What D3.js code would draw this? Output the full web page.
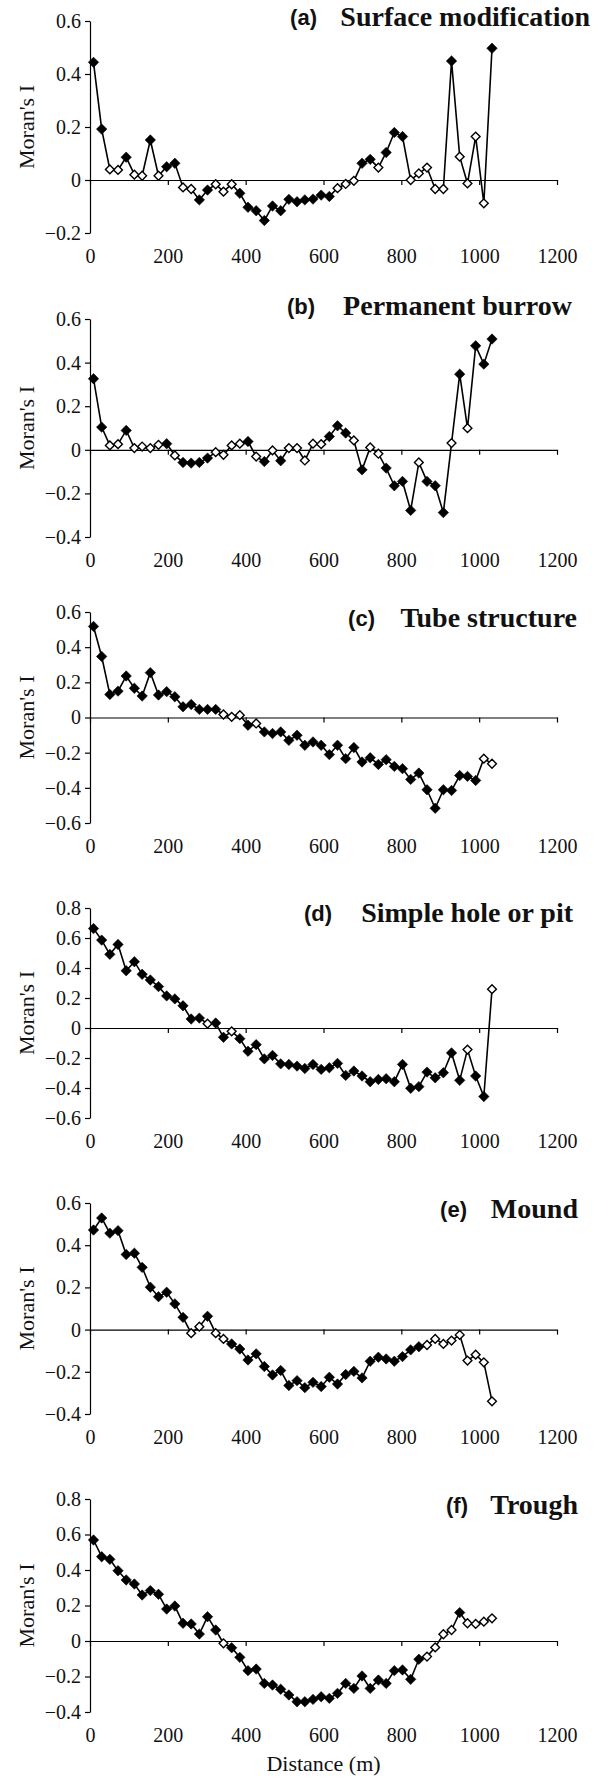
<!DOCTYPE html>
<html>
<head>
<meta charset="utf-8">
<title>Moran's I correlograms</title>
<style>
  html, body { margin: 0; padding: 0; background: #fff; }
</style>
<script src="https://d3js.org/d3.v7.min.js"></script>
</head>
<body>
<div id="chart"></div>
<script>
// distance classes (m), shared by all six correlograms
var distance = [9, 30, 51, 72, 93, 114, 134, 155, 176, 197, 218, 239, 260, 281, 302, 323, 343, 364, 385, 406,
                427, 448, 469, 490, 511, 532, 552, 573, 594, 615, 636, 657, 678, 699, 720, 741, 761, 782, 803, 824,
                845, 866, 887, 908, 929, 950, 970, 991, 1012, 1033];
var xTicks = [0, 200, 400, 600, 800, 1000, 1200];

var letters = ["(a)", "(b)", "(c)", "(d)", "(e)", "(f)"];
var titles = ["Surface modification", "Permanent burrow", "Tube structure", "Simple hole or pit", "Mound", "Trough"];

// Moran's I per panel; sig = 1 filled diamond (significant), 0 open diamond
var surfaceI = [0.444, 0.192, 0.040, 0.038, 0.086, 0.020, 0.016, 0.151, 0.016, 0.050, 0.063, -0.028, -0.034, -0.075, -0.038, -0.016, -0.044, -0.016, -0.050, -0.103,
                -0.116, -0.153, -0.098, -0.116, -0.073, -0.082, -0.075, -0.072, -0.057, -0.062, -0.031, -0.015, -0.003, 0.063, 0.078, 0.047, 0.104, 0.179, 0.164, 0.000,
                0.025, 0.047, -0.034, -0.034, 0.449, 0.088, -0.013, 0.164, -0.088, 0.497];
var surfaceSig = [1, 1, 0, 0, 1, 0, 0, 1, 0, 1, 1, 0, 0, 1, 1, 0, 0, 0, 1, 1, 1, 1, 1, 1, 1, 1, 1, 1, 1, 1, 0, 0, 0, 1, 1, 0, 1, 1, 1, 0, 0, 0, 0, 0, 1, 0, 0, 0, 0, 1];

var burrowI = [0.326, 0.104, 0.020, 0.026, 0.089, 0.008, 0.015, 0.008, 0.023, 0.028, -0.026, -0.058, -0.061, -0.058, -0.038, -0.011, -0.023, 0.020, 0.028, 0.038,
               -0.031, -0.054, -0.003, -0.050, 0.008, 0.008, -0.049, 0.028, 0.026, 0.061, 0.110, 0.077, 0.043, -0.092, 0.011, -0.018, -0.084, -0.165, -0.145, -0.278,
               -0.058, -0.145, -0.165, -0.288, 0.031, 0.347, 0.099, 0.477, 0.393, 0.508];
var burrowSig = [1, 1, 0, 0, 1, 0, 0, 0, 0, 1, 0, 1, 1, 1, 1, 0, 0, 0, 0, 1, 0, 1, 0, 1, 0, 0, 0, 0, 0, 1, 1, 1, 0, 1, 0, 0, 1, 1, 1, 1, 0, 1, 1, 1, 0, 1, 0, 1, 1, 1];

var tubeI = [0.518, 0.347, 0.131, 0.150, 0.236, 0.166, 0.122, 0.255, 0.128, 0.147, 0.118, 0.061, 0.074, 0.046, 0.046, 0.046, 0.017, 0.004, 0.013, -0.044,
             -0.034, -0.082, -0.091, -0.082, -0.130, -0.101, -0.158, -0.139, -0.158, -0.211, -0.158, -0.234, -0.171, -0.253, -0.229, -0.267, -0.240, -0.278, -0.291, -0.352,
             -0.316, -0.411, -0.516, -0.411, -0.415, -0.330, -0.335, -0.358, -0.234, -0.263];
var tubeSig = [1, 1, 1, 1, 1, 1, 1, 1, 1, 1, 1, 1, 1, 1, 1, 1, 0, 0, 0, 1, 0, 1, 1, 1, 1, 1, 1, 1, 1, 1, 1, 1, 1, 1, 1, 1, 1, 1, 1, 1, 1, 1, 1, 1, 1, 1, 1, 1, 0, 0];

var holeI = [0.663, 0.586, 0.491, 0.557, 0.382, 0.442, 0.358, 0.320, 0.276, 0.214, 0.194, 0.148, 0.060, 0.066, 0.029, 0.033, -0.062, -0.022, -0.071, -0.155,
             -0.111, -0.206, -0.183, -0.239, -0.243, -0.254, -0.270, -0.243, -0.276, -0.265, -0.236, -0.316, -0.287, -0.320, -0.358, -0.343, -0.338, -0.358, -0.243, -0.402,
             -0.391, -0.294, -0.332, -0.298, -0.166, -0.349, -0.144, -0.320, -0.457, 0.259];
var holeSig = [1, 1, 1, 1, 1, 1, 1, 1, 1, 1, 1, 1, 1, 1, 0, 1, 1, 0, 1, 1, 1, 1, 1, 1, 1, 1, 1, 1, 1, 1, 1, 1, 1, 1, 1, 1, 1, 1, 1, 1, 1, 1, 1, 1, 1, 1, 0, 1, 1, 0];

var moundI = [0.472, 0.529, 0.457, 0.469, 0.356, 0.362, 0.295, 0.201, 0.156, 0.177, 0.122, 0.058, -0.017, 0.014, 0.063, -0.017, -0.044, -0.068, -0.092, -0.144,
              -0.115, -0.175, -0.215, -0.194, -0.265, -0.242, -0.275, -0.250, -0.270, -0.226, -0.258, -0.213, -0.198, -0.229, -0.150, -0.131, -0.139, -0.150, -0.128, -0.096,
              -0.081, -0.073, -0.044, -0.068, -0.052, -0.025, -0.147, -0.119, -0.155, -0.340];
var moundSig = [1, 1, 1, 1, 1, 1, 1, 1, 1, 1, 1, 1, 0, 0, 1, 0, 0, 1, 1, 1, 1, 1, 1, 1, 1, 1, 1, 1, 1, 1, 1, 1, 1, 1, 1, 1, 1, 1, 1, 1, 1, 0, 0, 0, 0, 0, 0, 0, 0, 0];

var troughI = [0.569, 0.475, 0.460, 0.396, 0.344, 0.321, 0.259, 0.284, 0.263, 0.180, 0.197, 0.100, 0.096, 0.039, 0.137, 0.062, -0.013, -0.038, -0.092, -0.167,
               -0.158, -0.239, -0.248, -0.272, -0.304, -0.342, -0.342, -0.329, -0.314, -0.323, -0.295, -0.239, -0.267, -0.197, -0.267, -0.220, -0.239, -0.167, -0.163, -0.216,
               -0.103, -0.088, -0.036, 0.038, 0.062, 0.160, 0.100, 0.096, 0.109, 0.128];
var troughSig = [1, 1, 1, 1, 1, 1, 1, 1, 1, 1, 1, 1, 1, 1, 1, 1, 0, 1, 1, 1, 1, 1, 1, 1, 1, 1, 1, 1, 1, 1, 1, 1, 1, 1, 1, 1, 1, 1, 1, 1, 1, 0, 0, 0, 0, 1, 0, 0, 0, 0];

var series = [surfaceI, burrowI, tubeI, holeI, moundI, troughI];
var sigs = [surfaceSig, burrowSig, tubeSig, holeSig, moundSig, troughSig];

var yTicks = [
    [-0.2, 0, 0.2, 0.4, 0.6],
    [-0.4, -0.2, 0, 0.2, 0.4, 0.6],
    [-0.6, -0.4, -0.2, 0, 0.2, 0.4, 0.6],
    [-0.6, -0.4, -0.2, 0, 0.2, 0.4, 0.6, 0.8],
    [-0.4, -0.2, 0, 0.2, 0.4, 0.6],
    [-0.4, -0.2, 0, 0.2, 0.4, 0.6, 0.8]
];

// page layout of each panel (pixels)
var layout = [
    { top: 21,   bottom: 233,  titleY: 26,   titleX: 590, letterX: 317 },
    { top: 319,  bottom: 537,  titleY: 315,  titleX: 572, letterX: 315 },
    { top: 612,  bottom: 823,  titleY: 627,  titleX: 577, letterX: 375 },
    { top: 908,  bottom: 1118, titleY: 922,  titleX: 573, letterX: 332 },
    { top: 1203, bottom: 1414, titleY: 1218, titleX: 578, letterX: 467 },
    { top: 1499, bottom: 1712, titleY: 1514, titleX: 578, letterX: 468 }
];

var serif = "Liberation Serif";
var sans = "Liberation Sans";

var svg = d3.select("#chart").append("svg")
    .attr("width", 608)
    .attr("height", 1778);

var x = d3.scaleLinear().domain([0, 1200]).range([90, 557]);

function diamond(r) {
    return "M0," + (-r) + "L" + r + ",0L0," + r + "L" + (-r) + ",0Z";
}
function fmtY(d) {
    return Math.abs(d) < 1e-9 ? "0" : d3.format(".1f")(d);
}

layout.forEach(function (p, k) {
    var lo = yTicks[k][0], hi = yTicks[k][yTicks[k].length - 1];
    var y = d3.scaleLinear().domain([lo, hi]).range([p.bottom, p.top]);
    var g = svg.append("g");
    var pts = distance.map(function (d, i) { return { d: d, v: series[k][i], s: sigs[k][i] }; });

    // y axis
    var ya = g.append("g")
        .attr("transform", "translate(" + x(0) + ",0)")
        .call(d3.axisLeft(y).tickValues(yTicks[k]).tickSize(5).tickSizeOuter(0).tickPadding(4).tickFormat(fmtY));
    ya.selectAll("path, line").attr("stroke", "#000").attr("stroke-width", 1.2);
    ya.selectAll("text")
        .style("font-family", serif).style("font-size", "20px").attr("fill", "#111");

    // horizontal axis through zero
    var xa = g.append("g")
        .attr("transform", "translate(0," + y(0) + ")")
        .call(d3.axisBottom(x).tickValues(xTicks).tickSize(5).tickSizeOuter(0).tickFormat(""));
    xa.selectAll("path, line").attr("stroke", "#000").attr("stroke-width", 1.2);

    // distance labels below the plot
    var xl = g.append("g")
        .attr("transform", "translate(0," + p.bottom + ")")
        .call(d3.axisBottom(x).tickValues(xTicks).tickSize(0).tickPadding(16).tickFormat(d3.format("d")));
    xl.select(".domain").remove();
    xl.selectAll("text")
        .style("font-family", serif).style("font-size", "20px").attr("fill", "#111");

    // series line
    g.append("path")
        .datum(pts)
        .attr("fill", "none")
        .attr("stroke", "#000")
        .attr("stroke-width", 1.6)
        .attr("d", d3.line().x(function (d) { return x(d.d); }).y(function (d) { return y(d.v); }));

    // diamond markers
    g.selectAll(".pt")
        .data(pts)
        .enter()
        .append("path")
        .attr("class", "pt")
        .attr("transform", function (d) { return "translate(" + x(d.d) + "," + y(d.v) + ")"; })
        .attr("d", function (d) { return d.s ? diamond(5.2) : diamond(4.4); })
        .attr("fill", function (d) { return d.s ? "#000" : "#fff"; })
        .attr("stroke", "#000")
        .attr("stroke-width", function (d) { return d.s ? 0.6 : 1.4; });

    // y label
    g.append("text")
        .attr("transform", "translate(26," + ((p.top + p.bottom) / 2) + ") rotate(-90)")
        .attr("text-anchor", "middle")
        .attr("dominant-baseline", "central")
        .style("font-family", serif)
        .style("font-size", "22px")
        .attr("fill", "#111")
        .text("Moran's I");

    // panel heading
    g.append("text")
        .attr("x", p.letterX)
        .attr("y", p.titleY - 1)
        .attr("text-anchor", "end")
        .style("font-family", sans)
        .style("font-weight", "bold")
        .style("font-size", "22px")
        .attr("fill", "#111")
        .text(letters[k]);
    g.append("text")
        .attr("x", p.titleX)
        .attr("y", p.titleY)
        .attr("text-anchor", "end")
        .style("font-family", serif)
        .style("font-weight", "bold")
        .style("font-size", "28px")
        .attr("fill", "#111")
        .text(titles[k]);
});

svg.append("text")
    .attr("x", x(600))
    .attr("y", 1771)
    .attr("text-anchor", "middle")
    .style("font-family", serif)
    .style("font-size", "22px")
    .attr("fill", "#111")
    .text("Distance (m)");
</script>
</body>
</html>
